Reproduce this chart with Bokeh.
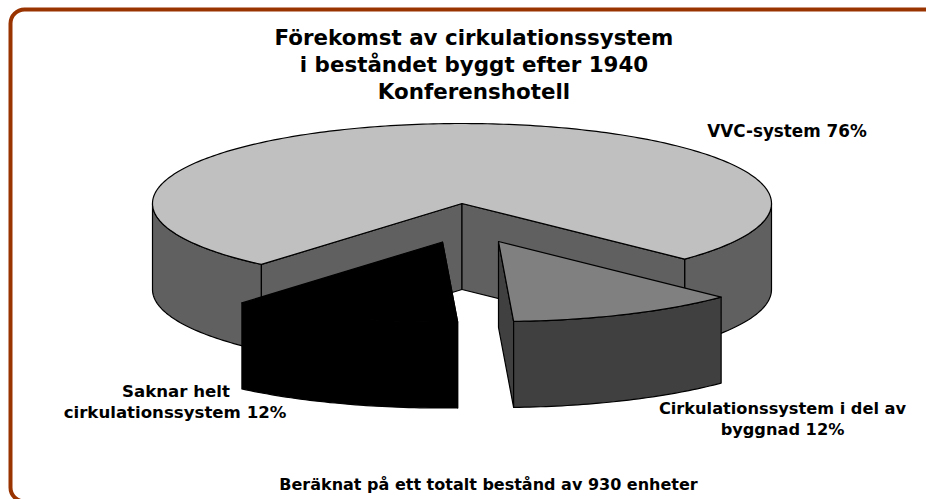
import math
from bokeh.embed import file_html
from bokeh.models import BoxAnnotation, ColumnDataSource, Range1d
from bokeh.core.properties import value
from bokeh.plotting import figure
from bokeh.resources import INLINE

# Data
categories = ["VVC-system", "Cirkulationssystem i del av byggnad", "Saknar helt cirkulationssystem"]
shares = [76, 12, 12]
title_lines = ["Förekomst av cirkulationssystem", "i beståndet byggt efter 1940", "Konferenshotell"]
label_lines = ["VVC-system 76%", "Saknar helt", "cirkulationssystem 12%",
               "Cirkulationssystem i del av", "byggnad 12%"]
note = "Beräknat på ett totalt bestånd av 930 enheter"

# Layout (in page pixels)
CX, CY, RX, RY, DEPTH = 461.5, 203.0, 309.5, 80.0, 86.0
FIRST_ANGLE = 44.0
OFFSETS = [(0.0, 0.0), (36.5, 38.0), (-19.5, 38.5)]
TOP = ["#c0c0c0", "#808080", "#000000"]
SIDE = ["#606060", "#404040", "#000000"]
LW = 1.2

p = figure(width=926, height=499, output_backend="svg", toolbar_location=None,
           x_range=Range1d(0, 926), y_range=Range1d(499, 0), min_border=0)
p.axis.visible = False
p.grid.visible = False
p.outline_line_color = None
p.background_fill_color = "#ffffff"
p.border_fill_color = "#ffffff"


def pt(t, off, dz=0.0):
    r = math.radians(t)
    return CX + off[0] + RX * math.cos(r), CY + off[1] + RY * math.sin(r) + dz


def arc(a, b, off, dz=0.0):
    n = max(2, int(abs(b - a)) + 1)
    return [pt(a + (b - a) * i / (n - 1), off, dz) for i in range(n)]


def poly(points, fill):
    xs = [q[0] for q in points]
    ys = [q[1] for q in points]
    p.patch(xs, ys, fill_color=fill, line_color="#000000", line_width=LW, line_join="round")


def outer_wall(a, b, off, fill):
    poly(arc(a, b, off) + arc(b, a, off, DEPTH), fill)


def cut_wall(t, off, fill):
    a = (CX + off[0], CY + off[1])
    e = pt(t, off)
    poly([a, e, (e[0], e[1] + DEPTH), (a[0], a[1] + DEPTH)], fill)


# Angles from the shares: the small slices follow each other clockwise from FIRST_ANGLE
deg = [s / sum(shares) * 360 for s in shares]
a1 = FIRST_ANGLE
a2 = a1 + deg[1]
a3 = a2 + deg[2]
big_end = a3 + deg[0]

# Large slice
off = OFFSETS[0]
outer_wall(0, a1, off, SIDE[0])
outer_wall(a3, 180, off, SIDE[0])
cut_wall(a3, off, SIDE[0])
cut_wall(a1, off, SIDE[0])
poly([(CX, CY)] + arc(a3, big_end, off), TOP[0])

# Exploded slice, right
off = OFFSETS[1]
cut_wall(a2, off, SIDE[1])
outer_wall(a1, a2, off, SIDE[1])
poly([(CX + off[0], CY + off[1])] + arc(a1, a2, off), TOP[1])

# Exploded slice, left
off = OFFSETS[2]
cut_wall(a2, off, SIDE[2])
outer_wall(a2, a3, off, SIDE[2])
poly([(CX + off[0], CY + off[1])] + arc(a2, a3, off), TOP[2])

# Frame
p.add_layout(BoxAnnotation(left=10, right=960, top=9, bottom=501, fill_alpha=0,
                           line_color="#993300", line_width=4, line_alpha=1,
                           border_radius=14, level="underlay"))


def put(lines, xs, ys, size):
    src = ColumnDataSource(dict(x=xs, y=ys, t=lines))
    p.text("x", "y", text="t", source=src, text_font=value("DejaVu Sans"),
           text_font_style="bold", text_font_size=size, text_color="#000000",
           text_align="center", text_baseline="alphabetic")


put(title_lines, [473.5, 473.5, 473.5], [37, 63.5, 91], "21.4px")
put(label_lines[:1], [786.5], [130], "16.8px")
put(label_lines[1:3], [175.5, 174.5], [390.5, 411.5], "16.6px")
put(label_lines[3:], [782, 782], [408, 429], "16.2px")
put([note], [488], [483.5], "16px")

open("out.html", "w").write(file_html(p, INLINE))
